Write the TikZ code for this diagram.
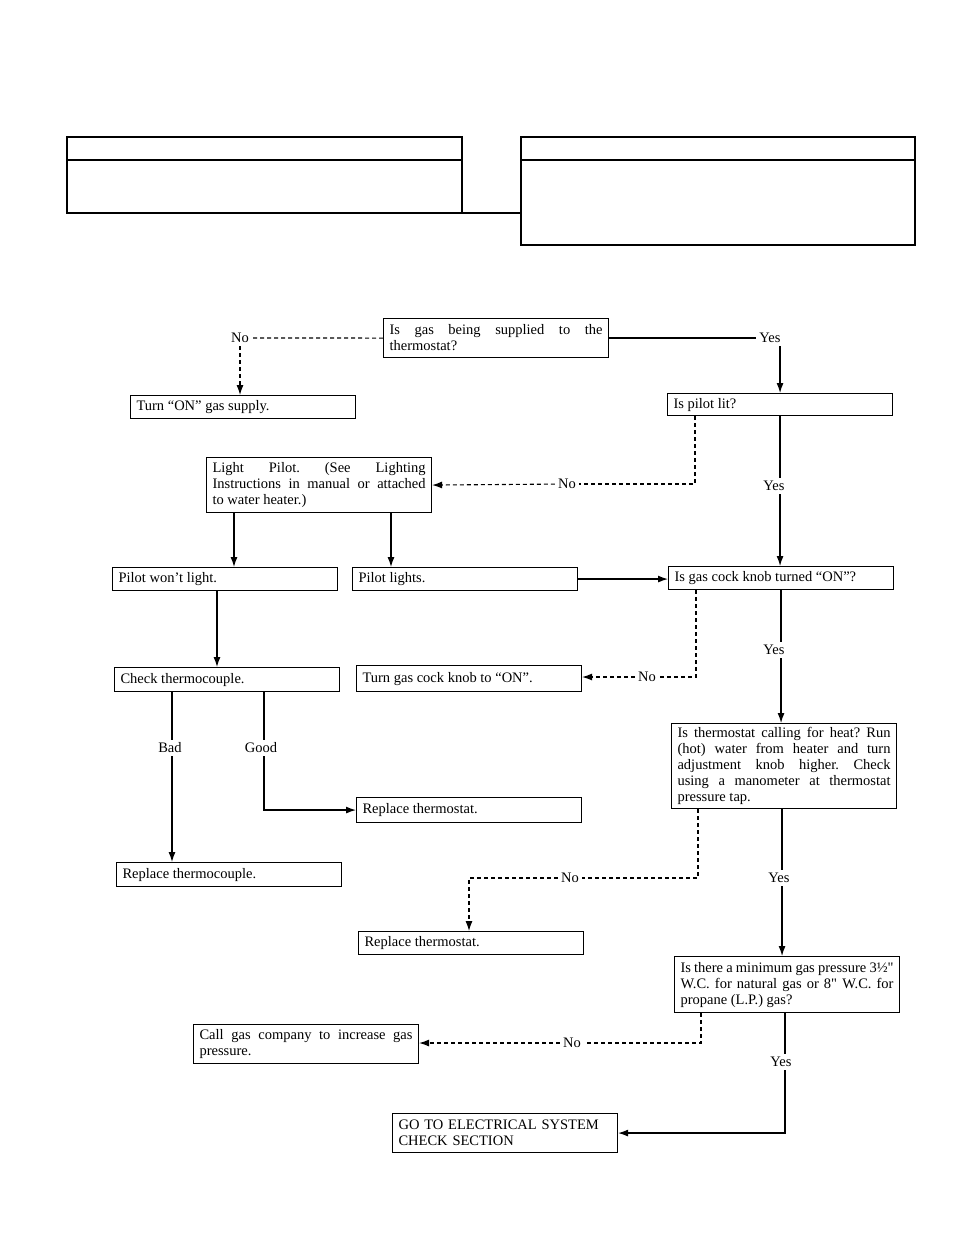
\documentclass[tikz,border=0pt]{standalone}
\usepackage{fontspec}
\setmainfont{Liberation Serif}[Ligatures=TeXOff]
\usetikzlibrary{arrows.meta,calc}
\frenchspacing
\begin{document}
\begin{tikzpicture}[x=1pt,y=-1pt,
  box/.style={draw, line width=1.1pt, anchor=north west, inner xsep=6pt, inner ysep=1pt,
    minimum width=225pt, text width=213pt, align=justify,
    font=\frenchspacing\fontsize{14.5}{16}\selectfont},
  lbl/.style={inner sep=3pt, font=\fontsize{14.5}{16}\selectfont},
  sl/.style={line width=1.2pt},
  dl/.style={line width=1.1pt, dash pattern=on 4pt off 3pt},
  arr/.style={-{Latex[length=10pt,width=7pt]}},
  hdr/.style={line width=1.2pt}]
\useasboundingbox (0,0) rectangle (954,1235);

% header boxes
\draw[hdr] (67,137) rectangle (462,213);
\draw[hdr] (67,160) -- (462,160);
\draw[hdr] (521,137) rectangle (915,245);
\draw[hdr] (521,160) -- (915,160);
\draw[hdr] (462,213) -- (521,213);

% boxes
\node[box, minimum height=39pt] (q1) at (383,318) {Is gas being supplied to the\linebreak thermostat?};
\node[box, minimum height=23pt] (turnon) at (130,395) {Turn “ON” gas supply.};
\node[box, minimum height=22pt] (pilot) at (667,393) {Is pilot lit?};
\node[box, minimum height=55pt] (light) at (206,457) {Light Pilot. (See Lighting\linebreak Instructions in manual or attached\linebreak to water heater.)};
\node[box, minimum height=23pt] (wont) at (112,567) {Pilot won’t light.};
\node[box, minimum height=23pt] (lights) at (352,567) {Pilot lights.};
\node[box, minimum height=23pt] (cock) at (668,566) {Is gas cock knob turned “ON”?};
\node[box, minimum height=24pt] (check) at (114,667) {Check thermocouple.};
\node[box, minimum height=26pt] (turncock) at (356,665) {Turn gas cock knob to “ON”.};
\node[box, minimum height=85pt] (tstat) at (671,723) {Is thermostat calling for heat? Run\linebreak (hot) water from heater and turn\linebreak adjustment knob higher. Check\linebreak using a manometer at thermostat\linebreak pressure tap.};
\node[box, minimum height=25pt] (repth) at (356,797) {Replace thermostat.};
\node[box, minimum height=24pt] (repcouple) at (116,862) {Replace thermocouple.};
\node[box, minimum height=23pt] (repth2) at (358,931) {Replace thermostat.};
\node[box, minimum height=56pt] (press) at (674,956) {Is there a minimum gas pressure 3½"\linebreak W.C. for natural gas or 8" W.C. for\linebreak propane (L.P.) gas?};
\node[box, minimum height=39pt] (call) at (193,1024) {Call gas company to increase gas\linebreak pressure.};
\node[box, minimum height=39pt, align=left] (go) at (392,1113) {GO TO ELECTRICAL SYSTEM\\CHECK SECTION};

% labels
\node[lbl] (no1) at (240,338) {No};
\node[lbl] (yes1) at (770,338) {Yes};
\node[lbl] (no2) at (567,484) {No};
\node[lbl] (yes2) at (774,486) {Yes};
\node[lbl] (yes3) at (774,650) {Yes};
\node[lbl] (no3) at (647,677) {No};
\node[lbl] (bad) at (170,748) {Bad};
\node[lbl] (good) at (261,748) {Good};
\node[lbl] (no4) at (570,878) {No};
\node[lbl] (yes4) at (779,878) {Yes};
\node[lbl] (no5) at (572,1043) {No};
\node[lbl] (yes5) at (781,1062) {Yes};

% connectors
\draw[dl] (q1.west) -- (no1);
\draw[dl,arr] (no1) -- (no1 |- turnon.north);
\draw[sl] (q1.east) -- (q1.east -| yes1.west);
\draw[sl,arr] (yes1.south -| pilot.north) -- (pilot.north);

\draw[dl] ([xshift=28pt]pilot.south west) |- (no2);
\draw[dl,arr] (no2) -- (light.east);
\draw[sl] (pilot.south) -- (pilot.south |- yes2.north);
\draw[sl,arr] (yes2.south -| pilot.south) -- (pilot.south |- cock.north);

\draw[sl,arr] ([xshift=28pt]light.south west) -- ([xshift=122pt]wont.north west);
\draw[sl,arr] ([xshift=185pt]light.south west) -- ([xshift=39pt]lights.north west);
\draw[sl,arr] (lights.east) -- (lights.east -| cock.west);
\draw[sl,arr] ([xshift=105pt]wont.south west) -- ([xshift=103pt]check.north west);

\draw[dl] ([xshift=28pt]cock.south west) |- (no3);
\draw[dl,arr] (no3) -- (no3 -| turncock.east);
\draw[sl] (cock.south) -- (cock.south |- yes3.north);
\draw[sl,arr] (yes3.south -| cock.south) -- (cock.south |- tstat.north);

\draw[sl] ([xshift=58pt]check.south west) -- ([xshift=58pt]check.south west |- bad.north);
\draw[sl,arr] ([xshift=2pt]bad.south) -- ([xshift=56pt]repcouple.north west);
\draw[sl] ([xshift=150pt]check.south west) -- ([xshift=150pt]check.south west |- good.north);
\draw[sl,arr] ([xshift=3pt]good.south) |- (repth.west);

\draw[dl] ([xshift=27pt]tstat.south west) |- (no4);
\draw[dl,arr] (no4) -| ([xshift=111pt]repth2.north west);
\draw[sl] ([xshift=-2pt]tstat.south) -- ([xshift=-2pt]tstat.south |- yes4.north);
\draw[sl,arr] ([xshift=-2pt]tstat.south |- yes4.south) -- ([xshift=-2pt]tstat.south |- press.north);

\draw[dl] ([xshift=27pt]press.south west) |- (no5);
\draw[dl,arr] (no5) -- (no5 -| call.east);
\draw[sl] ([xshift=-2pt]press.south) -- ([xshift=-2pt]press.south |- yes5.north);
\draw[sl,arr] ([xshift=-2pt]press.south |- yes5.south) |- (go.east);
\end{tikzpicture}
\end{document}
